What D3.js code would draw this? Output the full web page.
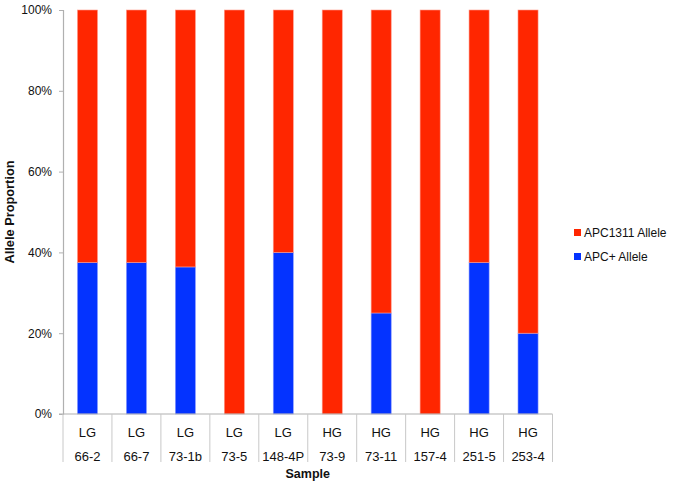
<!DOCTYPE html>
<html>
<head>
<meta charset="utf-8">
<script src="https://cdn.jsdelivr.net/npm/d3@7"></script>
<style>
  body { margin: 0; background: #fff; }
  text { font-family: "Liberation Sans", Arial, sans-serif; fill: #111; }
</style>
</head>
<body>
<div id="chart"></div>
<script>
// sample ids and grade row
const samples = ["66-2", "66-7", "73-1b", "73-5", "148-4P", "73-9", "73-11", "157-4", "251-5", "253-4"];
const grades = ["LG", "LG", "LG", "LG", "LG", "HG", "HG", "HG", "HG", "HG"];
// proportions (bottom = APC+, top = APC1311)
const apcPlus = [0.375, 0.375, 0.364, 0, 0.40, 0, 0.25, 0, 0.375, 0.20];
const apc1311 = apcPlus.map(v => 1 - v);
const yTicks = [0, 0.2, 0.4, 0.6, 0.8, 1];

const width = 675, height = 484;
const plotLeft = 63, plotRight = 552.5, plotTop = 10, plotBottom = 414;

const svg = d3.select("#chart").append("svg")
    .attr("width", width)
    .attr("height", height);

const rows = samples.map((s, i) => ({sample: s, plus: apcPlus[i], m1311: apc1311[i]}));

const x = d3.scaleBand().domain(samples).range([plotLeft, plotRight]).paddingInner(0.59).paddingOuter(0.295);
const y = d3.scaleLinear().domain([0, 1]).range([plotBottom, plotTop]);

const stack = d3.stack().keys(["plus", "m1311"]);
const series = stack(rows);
const colors = {plus: "#0433ff", m1311: "#ff2600"};
const edgeColors = {plus: "#8c9cff", m1311: "#ff9c8c"};

// bars
svg.selectAll("g.series")
    .data(series)
    .enter().append("g")
    .attr("class", "series")
    .attr("fill", d => colors[d.key])
    .attr("stroke", d => edgeColors[d.key])
    .attr("stroke-width", 0.6)
    .selectAll("rect")
    .data(d => d.filter(v => v[1] > v[0]))
    .enter().append("rect")
    .attr("x", d => x(d.data.sample))
    .attr("width", x.bandwidth())
    .attr("y", d => y(d[1]))
    .attr("height", d => y(d[0]) - y(d[1]));

// y axis
const yAxis = svg.append("g")
    .attr("transform", `translate(${plotLeft},0)`)
    .call(d3.axisLeft(y).tickValues(yTicks).tickFormat(d3.format(".0%")).tickSize(4).tickPadding(7));
yAxis.select(".domain").attr("stroke", "#b0b0b0").attr("stroke-width", 1.2);
yAxis.selectAll(".tick line").attr("stroke", "#b0b0b0");
yAxis.selectAll("text").style("font-size", "12px").attr("fill", "#111");

// x axis baseline + table grid
const step = x.step();
const edges = d3.range(samples.length + 1).map(i => plotLeft + i * step);
svg.append("line")
    .attr("x1", plotLeft - 4).attr("x2", plotRight)
    .attr("y1", plotBottom).attr("y2", plotBottom)
    .attr("stroke", "#b0b0b0").attr("stroke-width", 1.2);
svg.selectAll("line.sep")
    .data(edges)
    .enter().append("line")
    .attr("class", "sep")
    .attr("x1", d => d).attr("x2", d => d)
    .attr("y1", plotBottom).attr("y2", 462)
    .attr("stroke", "#c8c8c8");

svg.selectAll("text.grade")
    .data(samples)
    .enter().append("text")
    .attr("class", "grade")
    .attr("x", d => x(d) + x.bandwidth() / 2)
    .attr("y", 437)
    .attr("text-anchor", "middle")
    .style("font-size", "13px")
    .text((d, i) => grades[i]);

svg.selectAll("text.sample")
    .data(samples)
    .enter().append("text")
    .attr("class", "sample")
    .attr("x", d => x(d) + x.bandwidth() / 2)
    .attr("y", 461)
    .attr("text-anchor", "middle")
    .style("font-size", "13px")
    .text(d => d);

// axis titles
svg.append("text")
    .attr("x", (plotLeft + plotRight) / 2)
    .attr("y", 478)
    .attr("text-anchor", "middle")
    .style("font-size", "12.5px")
    .style("font-weight", "bold")
    .text("Sample");

svg.append("text")
    .attr("transform", `translate(14,${(plotTop + plotBottom) / 2}) rotate(-90)`)
    .attr("text-anchor", "middle")
    .style("font-size", "12.8px")
    .style("font-weight", "bold")
    .text("Allele Proportion");

// legend
const legend = [
    {label: "APC1311 Allele", color: colors.m1311},
    {label: "APC+ Allele", color: colors.plus}
];
const lg = svg.selectAll("g.legend")
    .data(legend)
    .enter().append("g")
    .attr("class", "legend")
    .attr("transform", (d, i) => `translate(574,${229 + i * 24})`);
lg.append("rect").attr("width", 7).attr("height", 7).attr("fill", d => d.color);
lg.append("text")
    .attr("x", 10).attr("y", 8)
    .style("font-size", "12px")
    .text(d => d.label);
</script>
</body>
</html>
